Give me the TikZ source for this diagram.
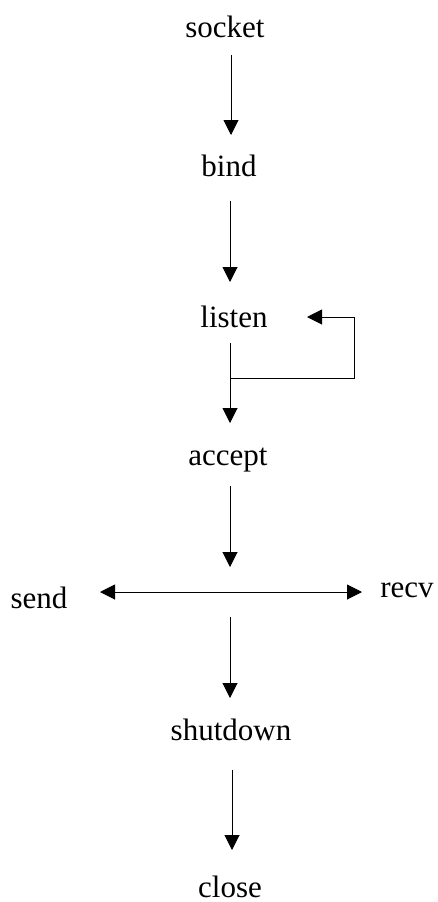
\documentclass[tikz,border=0pt]{standalone}
\usepackage{fontspec}
\setmainfont{Liberation Serif}
\usetikzlibrary{arrows.meta}
\begin{document}
\begin{tikzpicture}[x=1pt,y=-1pt,
  call/.style={anchor=base,inner sep=0pt,font=\fontsize{31}{31}\selectfont},
  flow/.style={line width=1pt,-{Triangle[length=15pt,width=15pt]}},
  both/.style={line width=1pt,{Triangle[length=15pt,width=15pt]}-{Triangle[length=15pt,width=15pt]}},
  plain/.style={line width=1pt}]
\useasboundingbox (0,0) rectangle (437,902);

% function calls, placed by baseline
\node[call] (socket)   at (225,37)  {socket};
\node[call] (bind)     at (229,176) {bind};
\node[call] (listen)   at (234,327) {listen};
\node[call] (accept)   at (228,465) {accept};
\node[call] (send)     at (39,608)  {send};
\node[call] (recv)     at (407,597) {recv};
\node[call] (shutdown) at (231,740) {shutdown};
\node[call] (close)    at (230,897) {close};

% arrow end points
\coordinate (s1) at (231,55);  \coordinate (e1) at (231,135);
\coordinate (s2) at (230,201); \coordinate (e2) at (230,282);
\coordinate (s3) at (230,343); \coordinate (e3) at (230,423);
\coordinate (j3) at (230,378);
\coordinate (c1) at (354,378); \coordinate (c2) at (354,317);
\coordinate (e4) at (307,317);
\coordinate (s5) at (230,486); \coordinate (e5) at (230,567);
\coordinate (l6) at (100,592); \coordinate (r6) at (362,592);
\coordinate (s7) at (230,617); \coordinate (e7) at (230,698);
\coordinate (s8) at (232,770); \coordinate (e8) at (232,850);

% main sequence
\draw[flow] (s1) -- (e1);
\draw[flow] (s2) -- (e2);
\draw[flow] (s3) -- (e3);
\draw[flow] (j3) -- (c1) -- (c2) -- (e4);
\draw[flow] (s5) -- (e5);
\draw[both] (l6) -- (r6);
\draw[flow] (s7) -- (e7);
\draw[flow] (s8) -- (e8);
\end{tikzpicture}
\end{document}
